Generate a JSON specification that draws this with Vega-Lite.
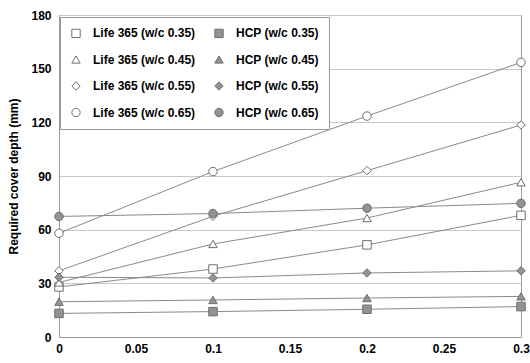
{
  "$schema": "https://vega.github.io/schema/vega-lite/v6.json",
  "width": 462,
  "height": 322,
  "autosize": {"type": "none"},
  "padding": {"left": 59, "top": 15, "right": 9, "bottom": 26},
  "background": "white",
  "config": {
    "font": "Liberation Sans",
    "view": {"stroke": "#9a9a9a", "strokeWidth": 1},
    "axis": {
      "labelFont": "Liberation Sans", "labelFontSize": 12, "labelFontWeight": "bold", "labelColor": "black",
      "domainColor": "#9a9a9a", "ticks": false, "grid": false,
      "titleFont": "Liberation Sans", "titleFontSize": 12, "titleFontWeight": "bold", "titleColor": "black"
    }
  },
  "data": {"values": [
    {"series": "Life 365 (w/c 0.35)", "x": 0, "y": 28},
    {"series": "Life 365 (w/c 0.35)", "x": 0.1, "y": 38},
    {"series": "Life 365 (w/c 0.35)", "x": 0.2, "y": 51.5},
    {"series": "Life 365 (w/c 0.35)", "x": 0.3, "y": 68},
    {"series": "Life 365 (w/c 0.45)", "x": 0, "y": 30.5},
    {"series": "Life 365 (w/c 0.45)", "x": 0.1, "y": 52},
    {"series": "Life 365 (w/c 0.45)", "x": 0.2, "y": 66.5},
    {"series": "Life 365 (w/c 0.45)", "x": 0.3, "y": 86.5},
    {"series": "Life 365 (w/c 0.55)", "x": 0, "y": 37},
    {"series": "Life 365 (w/c 0.55)", "x": 0.1, "y": 67.5},
    {"series": "Life 365 (w/c 0.55)", "x": 0.2, "y": 93},
    {"series": "Life 365 (w/c 0.55)", "x": 0.3, "y": 118.5},
    {"series": "Life 365 (w/c 0.65)", "x": 0, "y": 58},
    {"series": "Life 365 (w/c 0.65)", "x": 0.1, "y": 92.5},
    {"series": "Life 365 (w/c 0.65)", "x": 0.2, "y": 123.5},
    {"series": "Life 365 (w/c 0.65)", "x": 0.3, "y": 153.5},
    {"series": "HCP (w/c 0.35)", "x": 0, "y": 13.2},
    {"series": "HCP (w/c 0.35)", "x": 0.1, "y": 14.2},
    {"series": "HCP (w/c 0.35)", "x": 0.2, "y": 15.5},
    {"series": "HCP (w/c 0.35)", "x": 0.3, "y": 17},
    {"series": "HCP (w/c 0.45)", "x": 0, "y": 19.7},
    {"series": "HCP (w/c 0.45)", "x": 0.1, "y": 20.7},
    {"series": "HCP (w/c 0.45)", "x": 0.2, "y": 21.8},
    {"series": "HCP (w/c 0.45)", "x": 0.3, "y": 22.7},
    {"series": "HCP (w/c 0.55)", "x": 0, "y": 33.4},
    {"series": "HCP (w/c 0.55)", "x": 0.1, "y": 33},
    {"series": "HCP (w/c 0.55)", "x": 0.2, "y": 35.8},
    {"series": "HCP (w/c 0.55)", "x": 0.3, "y": 37},
    {"series": "HCP (w/c 0.65)", "x": 0, "y": 67.4},
    {"series": "HCP (w/c 0.65)", "x": 0.1, "y": 69},
    {"series": "HCP (w/c 0.65)", "x": 0.2, "y": 72},
    {"series": "HCP (w/c 0.65)", "x": 0.3, "y": 74.7}
  ]},
  "encoding": {
    "x": {"field": "x", "type": "quantitative",
      "scale": {"domain": [0, 0.3], "nice": false, "zero": false},
      "axis": {"title": null, "values": [0, 0.05, 0.1, 0.15, 0.2, 0.25, 0.3], "format": "~g", "labelPadding": 6, "labelFlush": false}},
    "y": {"field": "y", "type": "quantitative",
      "scale": {"domain": [0, 180], "nice": false},
      "axis": {"title": "Required cover depth (mm)", "values": [0, 30, 60, 90, 120, 150, 180], "grid": true, "gridColor": "#c8c8c8", "labelPadding": 8, "titlePadding": 10}}
  },
  "layer": [
    {
      "mark": {"type": "line", "color": "#8a8a8a", "strokeWidth": 1},
      "encoding": {"detail": {"field": "series", "type": "nominal"}}
    },
    {
      "mark": {"type": "point", "filled": true, "stroke": "#6e6e6e", "strokeWidth": 1, "opacity": 1, "size": 72},
      "encoding": {
        "shape": {"field": "series", "type": "nominal",
          "scale": {
            "domain": ["Life 365 (w/c 0.35)", "Life 365 (w/c 0.45)", "Life 365 (w/c 0.55)", "Life 365 (w/c 0.65)", "HCP (w/c 0.35)", "HCP (w/c 0.45)", "HCP (w/c 0.55)", "HCP (w/c 0.65)"],
            "range": ["square", "triangle-up", "diamond", "circle", "square", "triangle-up", "diamond", "circle"]
          },
          "legend": {
            "title": null, "orient": "none", "legendX": 1, "legendY": 2, "columns": 2, "gridAlign": "all",
            "columnPadding": 16, "rowPadding": 12.5, "padding": 10,
            "fillColor": "white", "strokeColor": "#9a9a9a",
            "symbolSize": 70, "symbolStrokeWidth": 1, "symbolOpacity": 1,
            "labelFont": "Liberation Sans", "labelFontSize": 12, "labelFontWeight": "bold", "labelColor": "black",
            "labelOffset": 11, "labelLimit": 300
          }
        },
        "fill": {"field": "series", "type": "nominal",
          "scale": {
            "domain": ["Life 365 (w/c 0.35)", "Life 365 (w/c 0.45)", "Life 365 (w/c 0.55)", "Life 365 (w/c 0.65)", "HCP (w/c 0.35)", "HCP (w/c 0.45)", "HCP (w/c 0.55)", "HCP (w/c 0.65)"],
            "range": ["white", "white", "white", "white", "#939393", "#939393", "#939393", "#939393"]
          },
          "legend": {
            "title": null, "orient": "none", "legendX": 1, "legendY": 2, "columns": 2, "gridAlign": "all",
            "columnPadding": 16, "rowPadding": 12.5, "padding": 10,
            "fillColor": "white", "strokeColor": "#9a9a9a",
            "symbolSize": 70, "symbolStrokeWidth": 1, "symbolOpacity": 1,
            "labelFont": "Liberation Sans", "labelFontSize": 12, "labelFontWeight": "bold", "labelColor": "black",
            "labelOffset": 11, "labelLimit": 300
          }
        }
      }
    }
  ]
}
